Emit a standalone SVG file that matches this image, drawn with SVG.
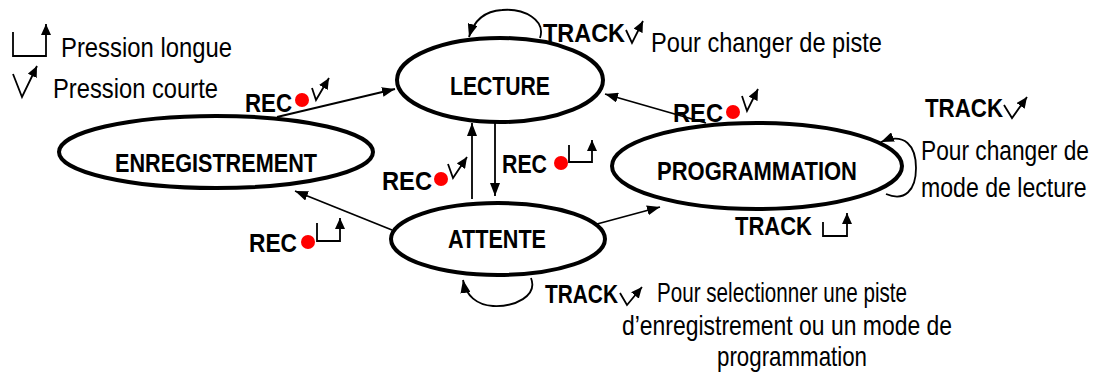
<svg xmlns="http://www.w3.org/2000/svg" width="1099" height="377" viewBox="0 0 1099 377">
<style>
.node{fill:#fff;stroke:#000;stroke-width:4}
.lbl{font-family:"Liberation Sans Narrow","Liberation Sans",sans-serif;font-weight:bold;font-size:26px;fill:#000}
.txt{font-family:"Liberation Sans Narrow","Liberation Sans",sans-serif;font-size:28px;fill:#000}
.edge{fill:none;stroke:#000;stroke-width:1.8;marker-end:url(#ah)}
.sym{fill:none;stroke:#000;stroke-width:1.8;marker-end:url(#sh)}
.dot{fill:#f00}
</style>
<defs>
<marker id="ah" markerUnits="userSpaceOnUse" markerWidth="14" markerHeight="10" refX="13" refY="5" orient="auto">
<path d="M0,0 L13,5 L0,10 z" fill="#000"/>
</marker>
<marker id="sh" markerUnits="userSpaceOnUse" markerWidth="12" markerHeight="10" refX="11" refY="5" orient="auto">
<path d="M0,0 L11,5 L0,10 z" fill="#000"/>
</marker>
</defs>
<g id="legend">
<path class="sym" d="M13,32 L13,56 L46,56 L46,24"/>
<text class="txt" x="61" y="57" textLength="171" lengthAdjust="spacingAndGlyphs">Pression longue</text>
<path class="sym" d="M13,74 L22,97 L37,66"/>
<text class="txt" x="53" y="98" textLength="165" lengthAdjust="spacingAndGlyphs">Pression courte</text>
</g>
<g id="connectors">
<path class="edge" d="M540,38 C546,20 524,8 502,10 C485,11 474,20 469,37"/>
<path class="edge" d="M706,123 L605,94"/>
<path class="edge" d="M277,117 L395,89"/>
<path class="edge" d="M472,199 L472,123"/>
<path class="edge" d="M495,123 L495,196"/>
<path class="edge" d="M392,230 L295,191"/>
<path class="edge" d="M597,224 L660,207"/>
<path class="edge" d="M886,194 C905,202 916,190 916,168 C916,146 905,132 881,142"/>
<path class="edge" d="M531,278 C538,296 515,307 493,306 C477,305 466,296 463,280"/>
</g>
<g id="lecture">
<ellipse class="node" cx="500" cy="80" rx="103" ry="42"/>
<text class="lbl" x="450" y="95" textLength="100" lengthAdjust="spacingAndGlyphs">LECTURE</text>
</g>
<g id="enregistrement">
<ellipse class="node" cx="216" cy="152" rx="157" ry="36"/>
<text class="lbl" x="115" y="172" textLength="202" lengthAdjust="spacingAndGlyphs">ENREGISTREMENT</text>
</g>
<g id="programmation">
<ellipse class="node" cx="757" cy="166" rx="145" ry="43"/>
<text class="lbl" x="657" y="180" textLength="200" lengthAdjust="spacingAndGlyphs">PROGRAMMATION</text>
</g>
<g id="attente">
<ellipse class="node" cx="498" cy="239" rx="107" ry="36"/>
<text class="lbl" x="448" y="248" textLength="98" lengthAdjust="spacingAndGlyphs">ATTENTE</text>
</g>
<g id="labels">
<text class="lbl" x="543" y="42" textLength="82" lengthAdjust="spacingAndGlyphs">TRACK</text>
<path class="sym" d="M626,30 L632,43 L643,21"/>
<text class="txt" x="651" y="52" textLength="231" lengthAdjust="spacingAndGlyphs">Pour changer de piste</text>

<text class="lbl" x="673" y="122" textLength="50" lengthAdjust="spacingAndGlyphs">REC</text>
<circle class="dot" cx="733" cy="112" r="7"/>
<path class="sym" d="M742,96 L747,111 L758,89"/>

<text class="lbl" x="245" y="112" textLength="47" lengthAdjust="spacingAndGlyphs">REC</text>
<circle class="dot" cx="302" cy="100" r="7"/>
<path class="sym" d="M312,88 L316,100 L329,78"/>

<text class="lbl" x="382" y="190" textLength="50" lengthAdjust="spacingAndGlyphs">REC</text>
<circle class="dot" cx="441" cy="179" r="7"/>
<path class="sym" d="M448,164 L453,178 L467,157"/>

<text class="lbl" x="502" y="173" textLength="45" lengthAdjust="spacingAndGlyphs">REC</text>
<circle class="dot" cx="561" cy="163" r="7"/>
<path class="sym" d="M569,145 L569,162 L592,162 L592,140"/>

<text class="lbl" x="249" y="252" textLength="48" lengthAdjust="spacingAndGlyphs">REC</text>
<circle class="dot" cx="308" cy="242" r="7"/>
<path class="sym" d="M317,223 L317,241 L340,241 L340,218"/>

<text class="lbl" x="925" y="117" textLength="78" lengthAdjust="spacingAndGlyphs">TRACK</text>
<path class="sym" d="M1004,105 L1012,118 L1027,97"/>
<text class="txt" transform="translate(921,160) scale(0.8,1)" x="0" y="0" textLength="210" lengthAdjust="spacingAndGlyphs">Pour changer de</text>
<text class="txt" transform="translate(921,197) scale(0.8,1)" x="0" y="0" textLength="207" lengthAdjust="spacingAndGlyphs">mode de lecture</text>

<text class="lbl" x="735" y="235" textLength="77" lengthAdjust="spacingAndGlyphs">TRACK</text>
<path class="sym" d="M823,222 L823,236 L847,236 L847,213"/>

<text class="lbl" x="545" y="303" textLength="73" lengthAdjust="spacingAndGlyphs">TRACK</text>
<path class="sym" d="M620,293 L627,305 L642,287"/>
<text class="txt" x="657" y="302" textLength="250" lengthAdjust="spacingAndGlyphs">Pour selectionner une piste</text>
<text class="txt" x="622" y="335" textLength="330" lengthAdjust="spacingAndGlyphs">d’enregistrement ou un mode de</text>
<text class="txt" x="717" y="366" textLength="150" lengthAdjust="spacingAndGlyphs">programmation</text>
</g>
</svg>
